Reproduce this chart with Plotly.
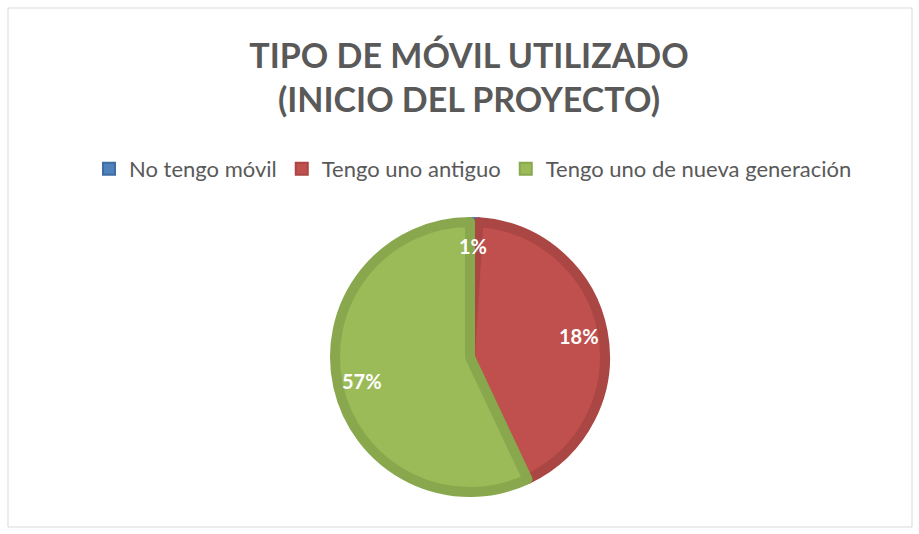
import math
import plotly.graph_objects as go

categories = ["No tengo móvil", "Tengo uno antiguo", "Tengo uno de nueva generación"]
slice_values = [1, 42, 57]
label_texts = ["1%", "18%", "57%"]

fill_colors = ["#4F81BD", "#C0504D", "#9BBB59"]
edge_colors = ["#3F6CA3", "#AA4643", "#89A84E"]

W, H = 919, 534
cx, cy, R = 470, 357, 135
label_r = 0.82

fig = go.Figure(go.Pie(
    labels=categories,
    values=slice_values,
    textinfo="none",
    sort=False,
    direction="clockwise",
    rotation=0,
    marker=dict(colors=fill_colors, line=dict(color=edge_colors, width=10)),
    domain=dict(x=[(cx - R) / W, (cx + R) / W], y=[1 - (cy + R) / H, 1 - (cy - R) / H]),
    hoverinfo="label+percent",
))

# data labels placed along each slice's bisector (derived from the values)
total = sum(slice_values)
annotations = []
cum = 0
for v, t in zip(slice_values, label_texts):
    mid = (cum + v / 2) / total * 2 * math.pi
    cum += v
    lx = cx + label_r * R * math.sin(mid)
    ly = cy - label_r * R * math.cos(mid)
    annotations.append(dict(
        x=lx / W, y=1 - ly / H, xref="paper", yref="paper",
        xanchor="center", yanchor="middle",
        text=t, showarrow=False,
        font=dict(family="Lato", size=20, color="white", weight="bold"),
    ))

fig.update_layout(
    width=W, height=H,
    margin=dict(l=0, r=0, t=0, b=0),
    paper_bgcolor="white",
    plot_bgcolor="white",
    title=dict(
        text="TIPO DE MÓVIL UTILIZADO<br>(INICIO DEL PROYECTO)",
        x=469 / W, xanchor="center",
        y=1 - 68 / H, yanchor="top",
        font=dict(family="Lato", size=34, color="#595959", weight="bold"),
    ),
    legend=dict(
        orientation="h",
        x=473 / W, xanchor="center",
        y=1 - 148 / H, yanchor="top",
        font=dict(family="Lato", size=22, color="#595959"),
        itemsizing="constant",
        traceorder="normal",
    ),
    annotations=annotations,
    shapes=[dict(type="rect", xref="paper", yref="paper",
                 x0=8 / W, x1=912 / W, y0=1 - 527 / H, y1=1 - 8 / H,
                 line=dict(color="#D9D9D9", width=1))],
)

fig.write_html(
    "out.html",
    config={"displayModeBar": False},
    post_script="document.body.style.margin='0';document.body.style.overflow='hidden';",
)
